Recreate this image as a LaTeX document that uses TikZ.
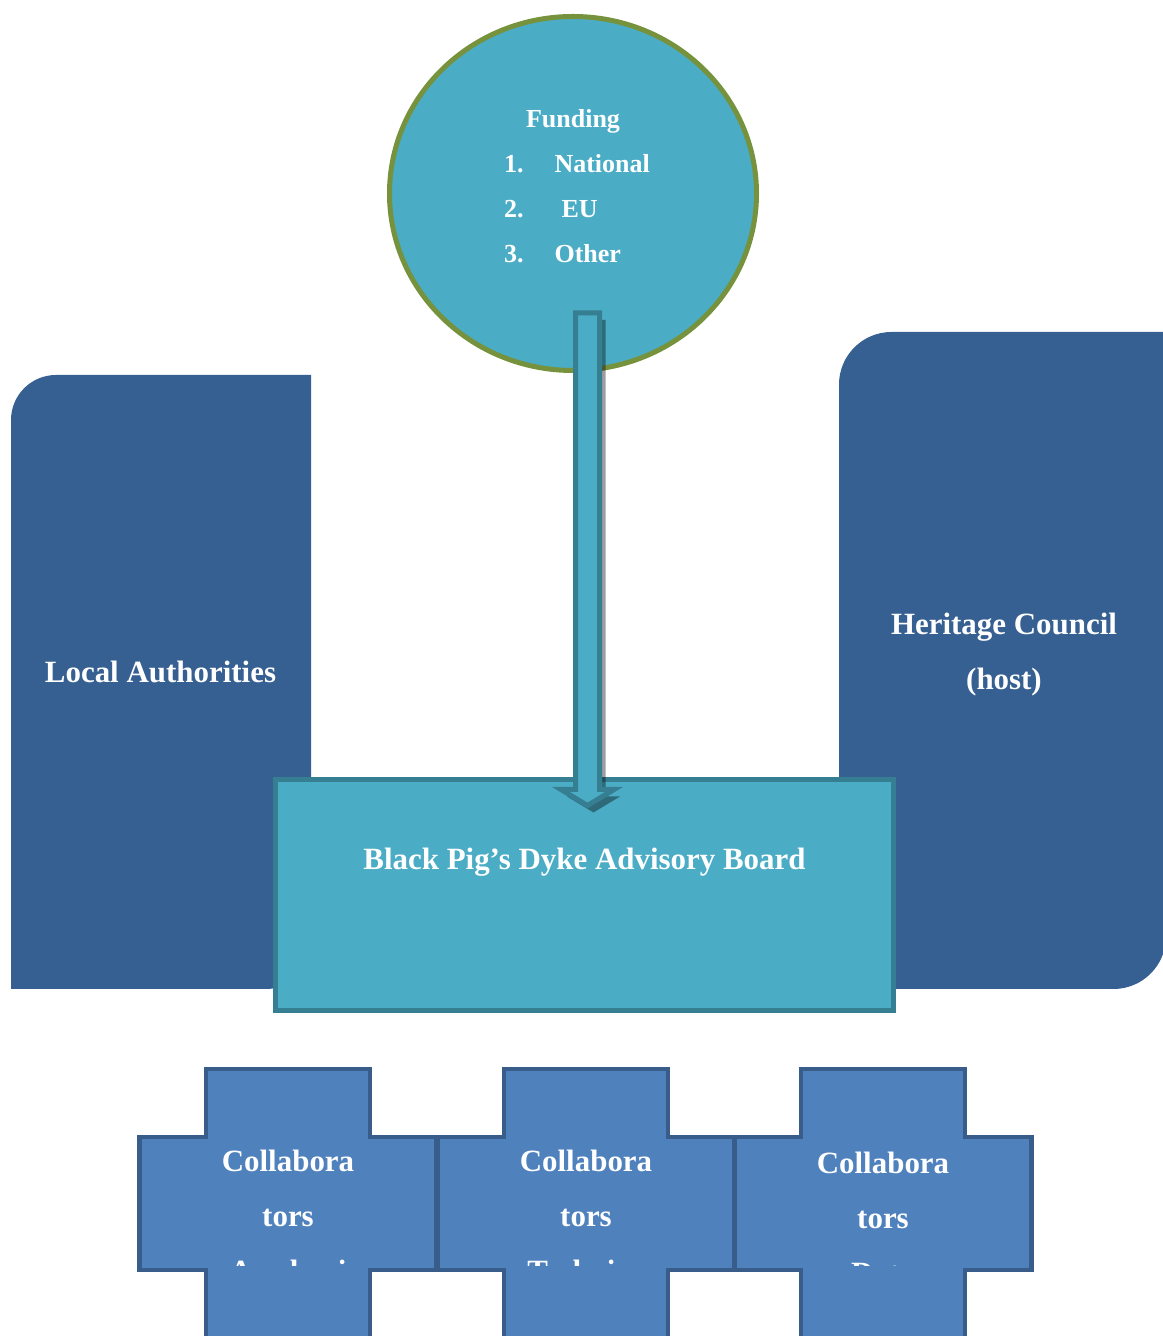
\documentclass[tikz,border=0pt]{standalone}
\usepackage{fontspec}
\setmainfont{Liberation Serif}
\usetikzlibrary{shapes.geometric, positioning, calc}

\definecolor{sideblue}{HTML}{366092}
\definecolor{aqua}{HTML}{4BACC6}
\definecolor{fundline}{HTML}{76923C}
\definecolor{tealline}{HTML}{367E91}
\definecolor{crossfill}{HTML}{4F81BD}
\definecolor{crossline}{HTML}{385D8A}

\begin{document}
\begin{tikzpicture}[
  sidefill/.style={fill=sideblue},
  bigtext/.style={text=white, font=\bfseries\fontsize{17.6pt}{31.3pt}\selectfont, align=center, inner sep=0pt},
  fundtext/.style={text=white, font=\bfseries\fontsize{14.8pt}{25.6pt}\selectfont, inner sep=0pt},
  fundcircle/.style={ellipse, draw=fundline, line width=0.1cm, fill=aqua, minimum width=7.34cm, minimum height=7.08cm},
  boardbox/.style={rectangle, draw=tealline, line width=0.1cm, fill=aqua, minimum width=12.36cm, minimum height=4.62cm},
  blockarrow/.style={draw=tealline, line width=0.1cm, fill=aqua, preaction={fill=black, opacity=0.38, transform canvas={xshift=0.12cm, yshift=-0.14cm}}},
  crossbox/.style={draw=crossline, line width=0.09cm, fill=crossfill}
]
  \useasboundingbox (0,0) rectangle (23.26,26.72);
  \clip (0,0) rectangle (23.26,26.72);

  % Side boxes
  \fill[sidefill] (0.22,6.94) -- (0.22,18.32) arc[start angle=180, end angle=90, radius=0.9] -- (6.22,19.22) -- (6.22,7.84) arc[start angle=0, end angle=-90, radius=0.9] -- cycle;
  \fill[sidefill] (16.78,6.94) -- (16.78,19.03) arc[start angle=180, end angle=90, radius=1.05] -- (23.32,20.08) -- (23.32,7.99) arc[start angle=0, end angle=-90, radius=1.05] -- cycle;
  \node[bigtext, anchor=base] (local) at (3.21,13.06) {Local Authorities};
  \node[bigtext, anchor=north] (heritage) at (20.08,14.46) {Heritage Council\\(host)};

  % Funding circle
  \node[fundcircle] (funding) at (11.46,22.85) {};
  \node[fundtext, anchor=north] (fundlist) at (11.46,24.81) {%
    \begin{tabular}{@{\hspace{0.16cm}}r@{\hspace{0.62cm}}l@{}}
      \multicolumn{2}{c}{Funding}\\
      1. & National\\
      2. & \hspace{0.14cm}EU\\
      3. & Other
    \end{tabular}};

  % Advisory board
  \node[boardbox] (board) at (11.69,8.82) {};
  \node[bigtext, anchor=base] (boardtitle) at (11.69,9.32) {Black Pig’s Dyke Advisory Board};

  % Block arrow from funding to board
  \coordinate (atop) at (11.75,20.46);
  \coordinate (atip) at (11.75,10.61);
  \draw[blockarrow] ($(atop)+(-0.24,0)$) -- ($(atop)+(0.24,0)$) -- ($(atip)+(0.24,0.32)$) -- ($(atip)+(0.53,0.32)$) -- (atip) -- ($(atip)+(-0.53,0.32)$) -- ($(atip)+(-0.24,0.32)$) -- cycle;

  % Collaborators
  \coordinate (c1) at (5.76,2.65);
  \coordinate[right=5.96cm of c1] (c2);
  \coordinate[right=5.94cm of c2] (c3);
  \foreach \c in {c1,c2,c3}
    \draw[crossbox] ($(\c)+(-1.64,2.69)$) -- ($(\c)+(1.64,2.69)$) -- ($(\c)+(1.64,1.33)$) -- ($(\c)+(2.97,1.33)$) -- ($(\c)+(2.97,-1.33)$) -- ($(\c)+(1.64,-1.33)$) -- ($(\c)+(1.64,-2.69)$) -- ($(\c)+(-1.64,-2.69)$) -- ($(\c)+(-1.64,-1.33)$) -- ($(\c)+(-2.97,-1.33)$) -- ($(\c)+(-2.97,1.33)$) -- ($(\c)+(-1.64,1.33)$) -- cycle;
  \begin{scope}
    \clip (0,1.40) rectangle (23.26,5);
    \node[bigtext, anchor=north] (collab1) at ($(c1)+(0,1.07)$) {Collabora\\tors\\Academi};
    \node[bigtext, anchor=north] (collab2) at ($(c2)+(0,1.07)$) {Collabora\\tors\\Technica};
    \node[bigtext, anchor=north] (collab3) at ($(c3)+(0,1.03)$) {Collabora\\tors\\Data};
  \end{scope}
\end{tikzpicture}
\end{document}
